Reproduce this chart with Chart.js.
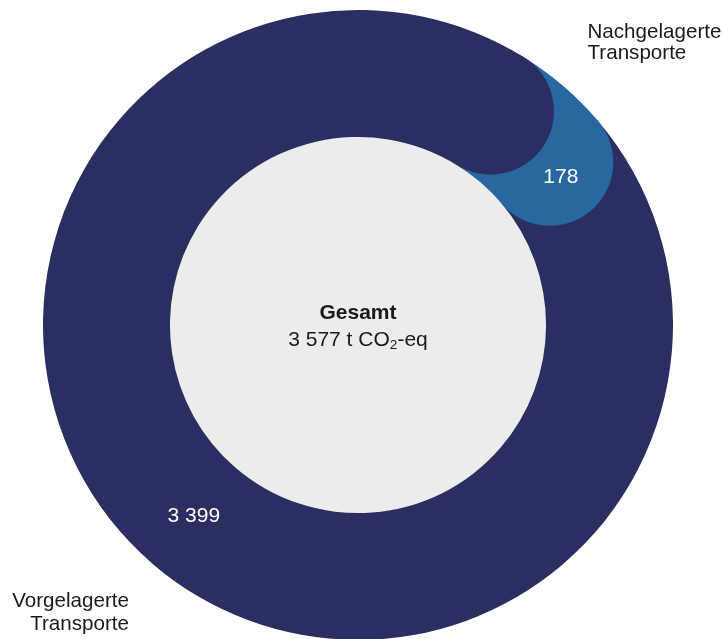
<!DOCTYPE html>
<html lang="de">
<head>
<meta charset="utf-8">
<script src="https://cdn.jsdelivr.net/npm/chart.js@4.4.1/dist/chart.umd.min.js"></script>
<style>
  html, body { margin: 0; padding: 0; width: 723px; height: 639px; overflow: hidden; background: #fff; }
  body { position: relative; font-family: "Liberation Sans", Arial, sans-serif; color: #1a1a1a; }
  #wrap { position: absolute; left: 43px; top: 10px; width: 630px; height: 630px; }
  .lbl { position: absolute; font-size: 20.6px; line-height: 21.5px; white-space: nowrap; }
  #center { position: absolute; left: 258px; top: 297.5px; width: 200px; text-align: center; font-size: 21px; line-height: 27px; }
  #center sub { font-size: 0.65em; vertical-align: -0.25em; line-height: 0; }
</style>
</head>
<body>
<div id="wrap"><canvas id="ring"></canvas></div>
<div class="lbl" style="left:587.5px; top:19.5px;">Nachgelagerte<br>Transporte</div>
<div class="lbl" style="right:594px; top:589px; text-align:right; line-height:22.5px;">Vorgelagerte<br>Transporte</div>
<div id="center"><b>Gesamt</b><br>3 577 t CO<sub>2</sub>-eq</div>
<script>
// values in t CO2-eq
const categories = ["Vorgelagerte Transporte", "Nachgelagerte Transporte"];
const values = [3399, 178];
const valueLabels = ["3 399", "178"];
const colors = ["#2b2e61", "#2967a0"];

// grey disc in the hole
const centerFill = {
  id: "centerFill",
  beforeDatasetsDraw(chart) {
    const arc = chart.getDatasetMeta(0).data[0];
    if (!arc) return;
    const p = arc.getProps(["x", "y", "innerRadius"], true);
    const c = chart.ctx;
    c.save();
    c.fillStyle = "#ececec";
    c.beginPath();
    c.arc(p.x, p.y, p.innerRadius + 0.5, 0, Math.PI * 2);
    c.fill();
    c.restore();
  }
};

// round end caps that overlap the next slice, plus value labels
const roundCaps = {
  id: "roundCaps",
  afterDatasetsDraw(chart) {
    const meta = chart.getDatasetMeta(0);
    const c = chart.ctx;
    c.save();
    // last slice first, so the big slice's cap ends up on top
    for (let i = meta.data.length - 1; i >= 0; i--) {
      const p = meta.data[i].getProps(["x", "y", "endAngle", "innerRadius", "outerRadius"], true);
      const mid = (p.innerRadius + p.outerRadius) / 2;
      const r = (p.outerRadius - p.innerRadius) / 2;
      c.fillStyle = colors[i];
      c.beginPath();
      c.arc(p.x + Math.cos(p.endAngle) * mid, p.y + Math.sin(p.endAngle) * mid, r, 0, Math.PI * 2);
      c.fill();
    }
    c.fillStyle = "#ffffff";
    c.font = "21px 'Liberation Sans', Arial, sans-serif";
    c.textAlign = "center";
    c.textBaseline = "middle";
    meta.data.forEach((arc, i) => {
      const p = arc.getProps(["x", "y", "startAngle", "endAngle", "innerRadius", "outerRadius"], true);
      const mid = (p.innerRadius + p.outerRadius) / 2;
      const capAngle = ((p.outerRadius - p.innerRadius) / 2) / mid;
      let a = (p.startAngle + p.endAngle) / 2;
      // small slice: visible part is shifted by the overlapping caps
      if (p.endAngle - p.startAngle < 0.5) a += capAngle * 0.9;
      c.fillText(valueLabels[i], p.x + Math.cos(a) * mid, p.y + Math.sin(a) * mid + 1);
    });
    c.restore();
  }
};

new Chart(document.getElementById("ring"), {
  type: "doughnut",
  data: {
    labels: categories,
    datasets: [{
      data: values,
      backgroundColor: colors,
      borderWidth: 0,
      hoverOffset: 0
    }]
  },
  options: {
    responsive: true,
    maintainAspectRatio: false,
    animation: false,
    cutout: "59.7%",
    rotation: 49.7,
    layout: { padding: 0 },
    plugins: {
      legend: { display: false },
      tooltip: { enabled: false }
    },
    events: []
  },
  plugins: [centerFill, roundCaps]
});
</script>
</body>
</html>
